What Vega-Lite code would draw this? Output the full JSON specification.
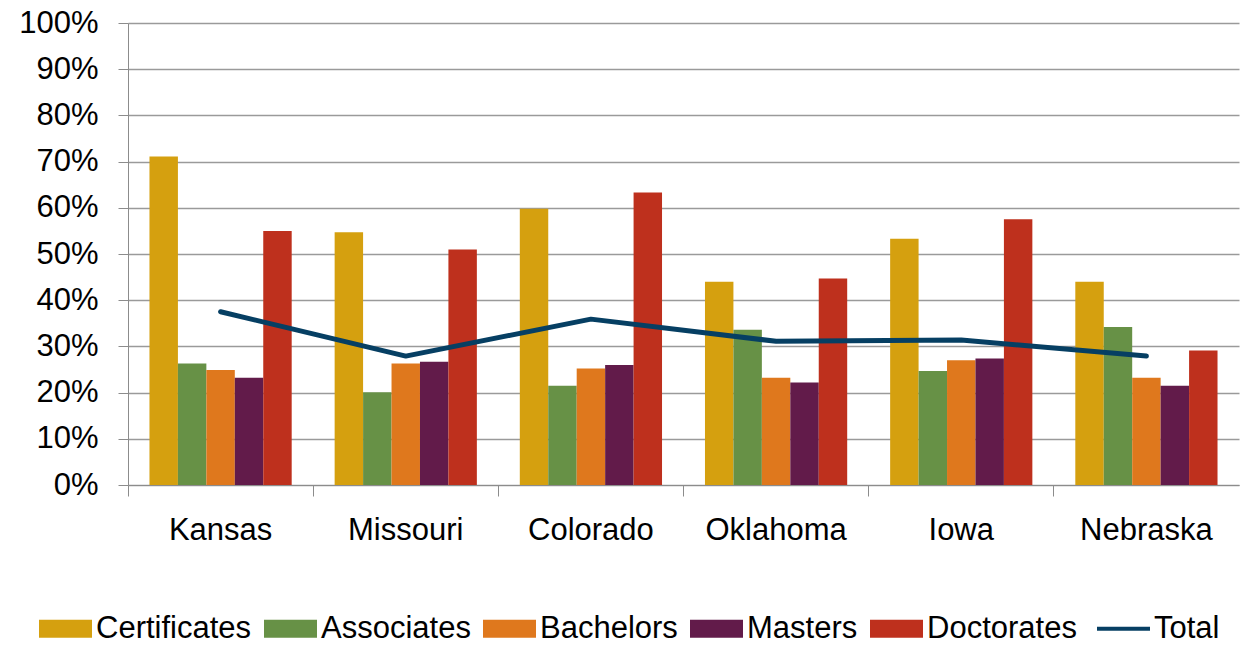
{
  "$schema": "https://vega.github.io/schema/vega-lite/v6.json",
  "width": 1111,
  "height": 462,
  "autosize": "none",
  "padding": {"left": 128, "top": 23, "right": 10, "bottom": 160},
  "background": "white",
  "config": {
    "view": {"stroke": null},
    "font": "Liberation Sans",
    "axis": {"labelFont": "Liberation Sans", "labelColor": "#000000"}
  },
  "data": {
    "values": [
      {"state": "Kansas", "series": "Certificates", "value": 0.711},
      {"state": "Kansas", "series": "Associates", "value": 0.263},
      {"state": "Kansas", "series": "Bachelors", "value": 0.249},
      {"state": "Kansas", "series": "Masters", "value": 0.232},
      {"state": "Kansas", "series": "Doctorates", "value": 0.550},
      {"state": "Kansas", "series": "Total", "value": 0.375},
      {"state": "Missouri", "series": "Certificates", "value": 0.547},
      {"state": "Missouri", "series": "Associates", "value": 0.201},
      {"state": "Missouri", "series": "Bachelors", "value": 0.263},
      {"state": "Missouri", "series": "Masters", "value": 0.267},
      {"state": "Missouri", "series": "Doctorates", "value": 0.510},
      {"state": "Missouri", "series": "Total", "value": 0.279},
      {"state": "Colorado", "series": "Certificates", "value": 0.598},
      {"state": "Colorado", "series": "Associates", "value": 0.215},
      {"state": "Colorado", "series": "Bachelors", "value": 0.252},
      {"state": "Colorado", "series": "Masters", "value": 0.260},
      {"state": "Colorado", "series": "Doctorates", "value": 0.633},
      {"state": "Colorado", "series": "Total", "value": 0.359},
      {"state": "Oklahoma", "series": "Certificates", "value": 0.440},
      {"state": "Oklahoma", "series": "Associates", "value": 0.336},
      {"state": "Oklahoma", "series": "Bachelors", "value": 0.232},
      {"state": "Oklahoma", "series": "Masters", "value": 0.222},
      {"state": "Oklahoma", "series": "Doctorates", "value": 0.447},
      {"state": "Oklahoma", "series": "Total", "value": 0.311},
      {"state": "Iowa", "series": "Certificates", "value": 0.533},
      {"state": "Iowa", "series": "Associates", "value": 0.247},
      {"state": "Iowa", "series": "Bachelors", "value": 0.270},
      {"state": "Iowa", "series": "Masters", "value": 0.274},
      {"state": "Iowa", "series": "Doctorates", "value": 0.575},
      {"state": "Iowa", "series": "Total", "value": 0.314},
      {"state": "Nebraska", "series": "Certificates", "value": 0.440},
      {"state": "Nebraska", "series": "Associates", "value": 0.342},
      {"state": "Nebraska", "series": "Bachelors", "value": 0.232},
      {"state": "Nebraska", "series": "Masters", "value": 0.215},
      {"state": "Nebraska", "series": "Doctorates", "value": 0.291},
      {"state": "Nebraska", "series": "Total", "value": 0.279}
    ]
  },
  "encoding": {
    "x": {
      "field": "state",
      "type": "nominal",
      "sort": null,
      "scale": {"paddingInner": 0, "paddingOuter": 0},
      "axis": {
        "title": null,
        "labelAngle": 0,
        "labelFontSize": 31,
        "labelPadding": 19,
        "tickSize": 11,
        "bandPosition": 0,
        "domainColor": "#8c8c8c",
        "tickColor": "#8c8c8c",
        "grid": false
      }
    },
    "y": {
      "field": "value",
      "type": "quantitative",
      "scale": {"domain": [0, 1], "nice": false},
      "axis": {
        "title": null,
        "format": ".0%",
        "values": [0, 0.1, 0.2, 0.3, 0.4, 0.5, 0.6, 0.7, 0.8, 0.9, 1],
        "labelFontSize": 31,
        "labelPadding": 20,
        "tickSize": 10,
        "domainColor": "#8c8c8c",
        "tickColor": "#8c8c8c",
        "gridColor": "#9a9a9a",
        "gridWidth": 1.5,
        "grid": true
      }
    },
    "color": {
      "field": "series",
      "type": "nominal",
      "scale": {
        "domain": ["Certificates", "Associates", "Bachelors", "Masters", "Doctorates", "Total"],
        "range": ["#D5A00F", "#679146", "#DF781D", "#621B4A", "#BE301D", "#063F63"]
      },
      "legend": {
        "title": null,
        "orient": "none",
        "direction": "horizontal",
        "legendX": -78,
        "legendY": 590,
        "labelFontSize": 31,
        "labelFont": "Liberation Sans",
        "labelColor": "#000000",
        "labelOffset": 15,
        "columnPadding": 12,
        "symbolType": "M-1,-0.34H1V0.34H-1Z",
        "symbolSize": 2809,
        "symbolStrokeWidth": 0,
        "encode": {
          "symbols": {
            "update": {
              "shape": {"signal": "datum.value === 'Total' ? 'M-1,0H1' : 'M-1,-0.34H1V0.34H-1Z'"},
              "fill": {"signal": "datum.value === 'Total' ? 'transparent' : scale('color', datum.value)"},
              "stroke": {"signal": "scale('color', datum.value)"},
              "strokeWidth": {"signal": "datum.value === 'Total' ? 4 : 0"},
              "fillOpacity": {"value": 1},
              "opacity": {"value": 1}
            }
          }
        }
      }
    }
  },
  "layer": [
    {
      "transform": [{"filter": "datum.series !== 'Total'"}],
      "mark": {"type": "bar"},
      "encoding": {
        "xOffset": {
          "field": "series",
          "type": "nominal",
          "scale": {
            "domain": ["Certificates", "Associates", "Bachelors", "Masters", "Doctorates"],
            "paddingInner": 0,
            "paddingOuter": 0.755
          }
        }
      }
    },
    {
      "transform": [{"filter": "datum.series === 'Total'"}],
      "mark": {"type": "line", "strokeWidth": 5, "strokeCap": "round", "strokeJoin": "round"},
      "encoding": {}
    }
  ]
}
